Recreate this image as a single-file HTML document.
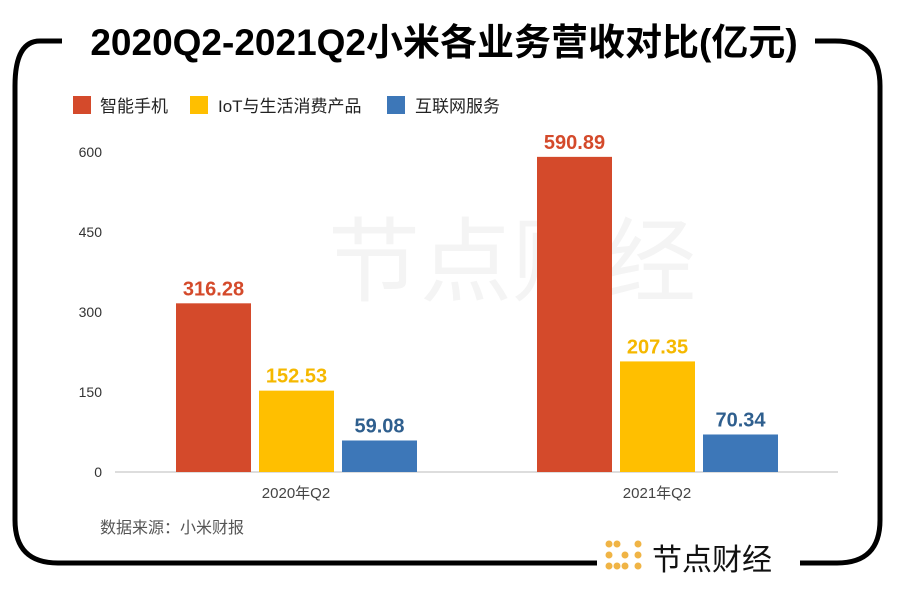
<!DOCTYPE html>
<html><head><meta charset="utf-8"><style>
body{margin:0;width:905px;height:584px;background:#fff;overflow:hidden;font-family:"Liberation Sans","Noto Sans CJK SC",sans-serif}
</style></head><body>
<svg width="905" height="584" xmlns="http://www.w3.org/2000/svg">
<path d="M40 41 H62 M815 41 H835 Q880 41 880 86 V520 Q880 563 837 563 H800 M597 563 H58 Q15 563 15 520 V86 Q15 41 40 41" fill="none" stroke="#000" stroke-width="5"/>
<text x="444" y="55" text-anchor="middle" font-size="37" font-weight="bold" fill="#000">2020Q2-2021Q2小米各业务营收对比(亿元)</text>
<text x="512" y="294" text-anchor="middle" font-size="92" fill="#f4f4f4">节点财经</text>
<g>
<rect x="73" y="96" width="18" height="18" fill="#d44a2b"/>
<text x="100" y="112" font-size="17" fill="#222">智能手机</text>
<rect x="190" y="96" width="18" height="18" fill="#ffbf00"/>
<text x="218" y="112" font-size="17" fill="#222">IoT与生活消费产品</text>
<rect x="387" y="96" width="18" height="18" fill="#3d77b8"/>
<text x="415" y="112" font-size="17" fill="#222">互联网服务</text>
</g>
<g id="plot"></g>
<text x="100" y="533" font-size="16" fill="#555">数据来源：小米财报</text>
<g>
<g fill="#f0b445">
<circle cx="609" cy="544" r="3.5"/><circle cx="617" cy="544" r="3.5"/><circle cx="638" cy="544" r="3.5"/>
<circle cx="609" cy="555" r="3.5"/><circle cx="625" cy="555" r="3.5"/><circle cx="638" cy="555" r="3.5"/>
<circle cx="609" cy="566" r="3.5"/><circle cx="617" cy="566" r="3.5"/><circle cx="625" cy="566" r="3.5"/><circle cx="638" cy="566" r="3.5"/>
</g>
<text x="652" y="570" font-size="30" fill="#111">节点财经</text>
</g>
</svg>
<script>
const categories=["2020年Q2","2021年Q2"];
const phone=[316.28,590.89];
const iot=[152.53,207.35];
const internet=[59.08,70.34];
const ticks=[0,150,300,450,600];
const NS="http://www.w3.org/2000/svg";
const g=document.getElementById('plot');
const y=v=>472-v*(320/600);
const groupX=i=>176+i*361;
function mk(t,a){const e=document.createElementNS(NS,t);for(const k in a)e.setAttribute(k,a[k]);g.appendChild(e);return e;}
ticks.forEach(t=>{const e=mk('text',{x:102,y:y(t)+5,'text-anchor':'end','font-size':14,fill:'#333'});e.textContent=t;

});
const ax=mk('line',{x1:115,x2:838,y1:472,y2:472,stroke:'#bbb','stroke-width':1});


const series=[[phone,'#d44a2b','#d44a2b','phone'],[iot,'#ffbf00','#f5b800','iot'],[internet,'#3d77b8','#2f5f8e','internet']];
categories.forEach((c,i)=>{
 series.forEach((s,j)=>{
  const v=s[0][i];const x=groupX(i)+j*83;
  const r=mk('rect',{x:x,y:y(v),width:75,height:472-y(v),fill:s[1]});
  
  
  const l=mk('text',{x:x+37.5,y:y(v)-8,'text-anchor':'middle','font-size':20,'font-weight':'bold',fill:s[2]});
  l.textContent=v.toFixed(2);
  
  
 });
 const t=mk('text',{x:groupX(i)+120,y:498,'text-anchor':'middle','font-size':15,fill:'#444'});
 t.textContent=c;
 
 
});
</script>
</body></html>
